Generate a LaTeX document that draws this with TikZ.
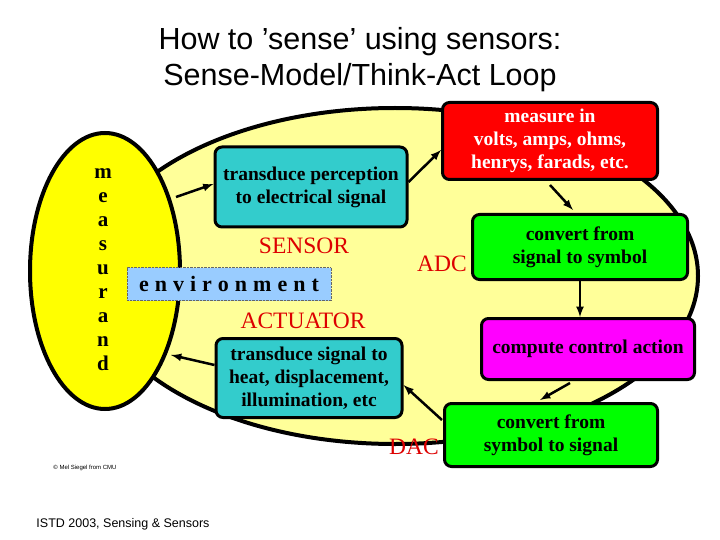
\documentclass[tikz,border=0pt]{standalone}
\usepackage{fontspec}
\setmainfont{Liberation Serif}
\newfontfamily\sansf{Liberation Sans}
\definecolor{pale}{HTML}{FFFF99}
\definecolor{yel}{HTML}{FFFF00}
\definecolor{teal1}{HTML}{33CCCC}
\definecolor{envb}{HTML}{99CCFF}
\definecolor{txtred}{HTML}{DD0000}
\definecolor{mag}{HTML}{FF00FF}
\definecolor{grn}{HTML}{00FF00}
\newcommand\lsp{\hskip 6pt\relax}
\begin{document}
\begin{tikzpicture}[x=1pt,y=-1pt,
  box/.style={draw=black,line width=3pt,rounded corners=7pt,align=center,font=\bfseries\fontsize{19.5}{23}\selectfont,inner sep=0pt},
  arr/.style={-latex,line width=2.5pt},
  lab/.style={text=txtred,font=\fontsize{23.5}{26}\selectfont}]
\useasboundingbox (0,0) rectangle (720,540);
\fill[white] (0,0) rectangle (720,540);
\node[font=\sansf\fontsize{30.5}{36}\selectfont,align=center] (title) at (360,60) {How to ’sense’ using sensors:\\Sense-Model/Think-Act Loop};
\draw[fill=pale,line width=4pt] (395,276) ellipse [x radius=303, y radius=168];
\draw[fill=yel,line width=4pt] (105,271) ellipse [x radius=75, y radius=138];
\node[font=\bfseries\fontsize{21}{24}\selectfont,align=center] (meas) at (103,270) {m\\e\\a\\s\\u\\r\\a\\n\\d};
\node[box,fill=teal1,minimum width=192pt,minimum height=80pt] (t1) at (311,187) {transduce perception\\to electrical signal};
\node[box,fill=teal1,minimum width=186pt,minimum height=79pt] (t2) at (309,378) {transduce signal to\\heat, displacement,\\illumination, etc};
\node[box,fill=red,text=white,minimum width=215pt,minimum height=77pt] (r) at (550,141) {measure in\\volts, amps, ohms,\\henrys, farads, etc.};
\node[box,fill=grn,minimum width=215pt,minimum height=65pt] (g1) at (580,247) {convert from\\signal to symbol};
\node[box,fill=mag,minimum width=213pt,minimum height=61pt] (m) at (588,349) {compute control action};
\node[box,fill=grn,minimum width=213pt,minimum height=63pt] (g2) at (551,435) {convert from\\symbol to signal};
\node[draw=black!60,densely dotted,fill=envb,minimum width=204pt,minimum height=33pt,font=\bfseries\fontsize{22}{24}\selectfont,inner sep=0pt] (env) at (229,284) {e\lsp n\lsp v\lsp i\lsp r\lsp o\lsp n\lsp m\lsp e\lsp n\lsp t};
\node[lab] (sensor) at (304,246) {SENSOR};
\node[lab] (act) at (303,321) {ACTUATOR};
\node[lab] (adc) at (442,264) {ADC};
\node[lab] (dac) at (414,447) {DAC};
\node[font=\sansf\fontsize{6}{7}\selectfont] (cr) at (85,468) {© Mel Siegel from CMU};
\node[font=\sansf\fontsize{12.5}{15}\selectfont] (foot) at (123,524) {ISTD 2003, Sensing \& Sensors};
\coordinate (a1) at (176,197);
\draw[arr] (a1) -- (t1.west |- 0,184);
\draw[arr] (t1.east |- 0,182) -- (r.west |- 0,150);
\draw[arr] (550,185) -- (573,210);
\draw[arr] (g1.south -| 580,0) -- (m.north -| 580,0);
\draw[arr] (570,383) -- (540,400);
\draw[arr] (442,420) -- (t2.east |- 0,385);
\coordinate (a2) at (171,355);
\draw[arr] (t2.west |- 0,365) -- (a2);
\end{tikzpicture}
\end{document}
